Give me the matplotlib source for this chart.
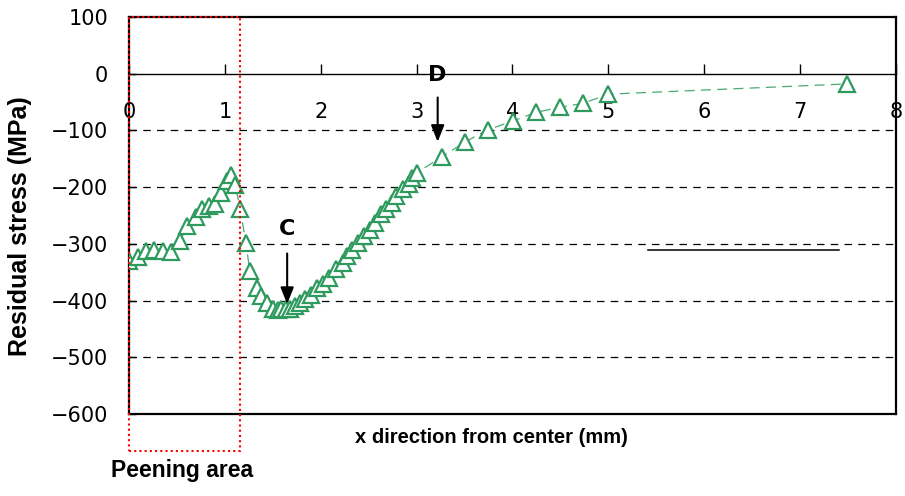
import numpy as np
import matplotlib.pyplot as plt
from matplotlib.patches import Rectangle

x_mm = [0.00, 0.09, 0.18, 0.26, 0.35, 0.44, 0.53, 0.61, 0.70, 0.76, 0.84, 0.90,
        0.96, 1.02, 1.06, 1.11, 1.16, 1.22, 1.26, 1.34, 1.38, 1.44, 1.50, 1.55,
        1.59, 1.64, 1.68, 1.73, 1.78, 1.84, 1.90, 1.96, 2.02, 2.09, 2.16, 2.23,
        2.27, 2.33, 2.39, 2.45, 2.51, 2.57, 2.63, 2.68, 2.74, 2.79, 2.86, 2.92,
        2.95, 3.00, 3.26, 3.51, 3.74, 4.01, 4.25, 4.50, 4.74, 5.00, 7.49]
stress = [-330, -323, -312, -310, -313, -314, -295, -269, -252, -238, -234, -229,
          -210, -190, -178, -197, -238, -299, -347, -377, -392, -405, -415, -417,
          -415, -415, -414, -410, -404, -398, -391, -377, -370, -360, -345, -333,
          -322, -310, -298, -286, -276, -263, -248, -239, -228, -216, -204, -194,
          -184, -175, -147, -120, -99, -83, -68, -59, -52, -36, -18]

x_ticks = [0, 1, 2, 3, 4, 5, 6, 7, 8]
y_ticks = [100, 0, -100, -200, -300, -400, -500, -600]
grid_y = [-100, -200, -300, -400, -500]

peen_x = [0, 1.155]
peen_y = [100, -665]

plt.rcParams['font.family'] = ['DejaVu Sans']

fig = plt.figure(figsize=(9.05, 4.96), dpi=100)
ax = fig.add_axes([0.1425, 0.1653, 0.8475, 0.8004])

ax.set_xlim(0, 8)
ax.set_ylim(-600, 100)

for g in grid_y:
    ax.axhline(g, color='black', lw=0.9, ls=(0, (6, 5)), zorder=1)

ax.plot(x_mm, stress, color='#4BAA74', lw=0.9, ls=(0, (8, 5)), zorder=2)
ax.plot(x_mm, stress, ls='none', marker='^', ms=12, mfc='white', mec='#2E9A5E',
        mew=1.6, zorder=3)

# x axis sits on y = 0, frame bottom drawn separately
ax.spines['bottom'].set_position(('data', 0))
ax.spines['bottom'].set_linewidth(1.0)
for s in ['left', 'right', 'top']:
    ax.spines[s].set_linewidth(1.6)
ax.axhline(-600, color='black', lw=1.6, clip_on=False, zorder=4)

ax.set_xticks(x_ticks)
ax.set_yticks(y_ticks)
ax.set_yticklabels(['\u2212' + str(-v) if v < 0 else str(v) for v in y_ticks])
ax.tick_params(axis='x', direction='in', length=7, width=1, pad=20, labelsize=15)
ax.tick_params(axis='y', direction='in', length=5, width=1, pad=15, labelsize=15)

# peening area box
ax.add_patch(Rectangle((peen_x[0], peen_y[1]), peen_x[1] - peen_x[0],
                       peen_y[0] - peen_y[1], fill=False, ec='red', lw=1.5,
                       ls=(0, (1, 1.5)), clip_on=False, zorder=5))

# stray reference line
ax.plot([5.41, 7.41], [-311, -311], color='black', lw=1.1)

# arrows C and D
ax.annotate('', xy=(1.65, -411), xytext=(1.65, -312),
            arrowprops=dict(arrowstyle='-|>,head_width=0.4,head_length=1.0',
                            color='black', lw=1.5))
ax.text(1.65, -273, 'C', ha='center', va='center', fontsize=16, fontweight='bold')
ax.annotate('', xy=(3.22, -125), xytext=(3.22, -37),
            arrowprops=dict(arrowstyle='-|>,head_width=0.4,head_length=1.0',
                            color='black', lw=1.5))
ax.text(3.22, -2, 'D', ha='center', va='center', fontsize=16, fontweight='bold')

fig.text(0.022, 0.545, 'Residual stress (MPa)', rotation=90, ha='center',
         va='center', fontsize=18, fontweight='bold', family='Liberation Sans')
fig.text(0.543, 0.117, 'x direction from center (mm)', ha='center', va='center',
         fontsize=14.5, fontweight='bold', family='Liberation Sans')
fig.text(0.201, 0.052, 'Peening area', ha='center', va='center',
         fontsize=16.5, fontweight='bold', family='Liberation Sans')

fig.savefig('out.png', dpi=100)
